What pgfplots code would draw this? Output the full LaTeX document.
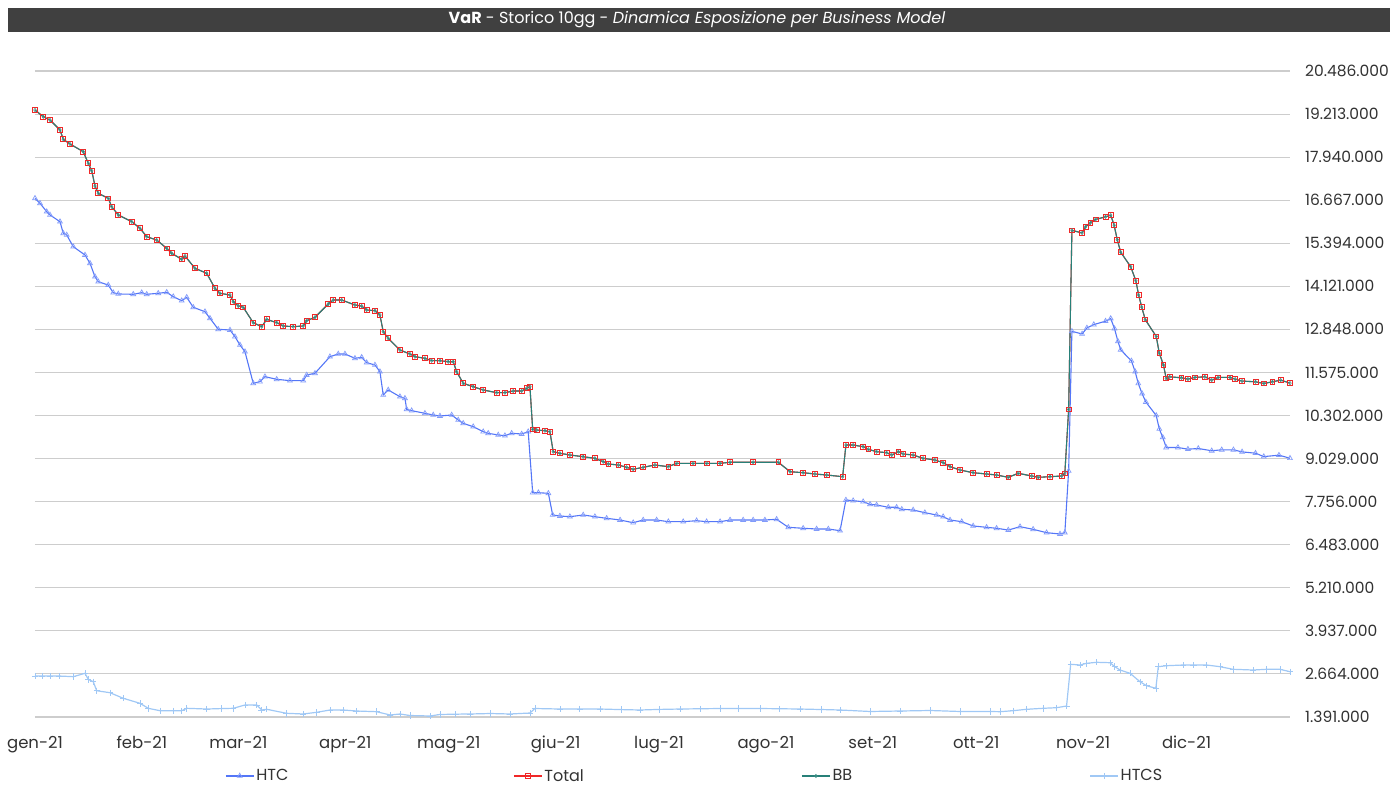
\documentclass[border=0pt]{standalone}
\usepackage{fontspec}
\setmainfont{Poppins}
\usepackage{pgfplots}
\pgfplotsset{compat=1.18}
\usepackage{pgfplotstable}
\definecolor{htc}{RGB}{84,118,247}
\definecolor{htcmark}{RGB}{130,155,250}
\definecolor{tot}{RGB}{240,40,40}
\definecolor{bb}{RGB}{40,128,120}
\definecolor{bbmark}{RGB}{70,150,140}
\definecolor{htcs}{RGB}{160,200,245}
\definecolor{titlebg}{RGB}{64,64,64}
\definecolor{gridc}{RGB}{205,205,205}
\definecolor{txt}{RGB}{50,50,50}

\pgfplotstableread{
d v
0 19333
2.4 19135
4.35 19038
7.25 18742
8.2 18467
10.15 18328
14.0 18101
15.45 17758
16.45 17539
17.4 17087
18.35 16871
21.25 16723
22.25 16475
24.15 16230
28.05 16032
30.45 15837
32.4 15588
35.3 15491
38.2 15245
39.65 15098
42.55 14920
43.5 15018
46.4 14654
49.8 14507
52.2 14063
53.65 13915
56.55 13865
57.5 13667
58.95 13540
60.4 13501
63.3 13046
65.75 12928
67.2 13147
70.1 13046
72.0 12949
74.9 12928
77.8 12949
78.8 13105
81.2 13206
85.05 13599
86.5 13717
88.95 13717
92.8 13569
94.75 13539
96.2 13422
98.6 13401
100.05 13274
101.0 12780
102.45 12585
105.85 12239
108.75 12121
110.2 12041
113.1 11994
115.05 11923
117.45 11923
119.85 11893
121.3 11893
122.3 11598
124.2 11255
127.1 11154
130.0 11057
133.9 10977
136.3 10977
138.7 11027
141.15 11027
142.6 11107
143.55 11154
144.35 9895
145.5 9874
147.9 9854
149.35 9824
150.3 9233
152.25 9186
155.15 9135
159.0 9085
162.4 9038
164.8 8937
166.3 8869
169.2 8840
171.6 8772
173.5 8713
176.4 8772
179.8 8840
183.7 8790
186.1 8890
190.9 8890
194.8 8890
198.7 8890
201.6 8920
208.3 8920
215.6 8920
219.0 8642
222.8 8612
226.2 8574
229.6 8544
234.25 8494
235.2 9431
237.3 9431
240.2 9381
241.7 9304
244.1 9233
247.0 9204
248.5 9135
250.4 9233
251.8 9165
254.7 9135
257.6 9038
261.0 8988
263.4 8908
265.4 8790
268.3 8692
272.1 8612
276.0 8574
278.9 8544
282.3 8476
285.2 8594
289.1 8515
291.0 8476
294.4 8494
297.8 8515
298.7 8594
299.8 10483
300.75 15777
303.7 15698
304.7 15878
306.1 15996
307.6 16097
310.5 16176
312.0 16224
313.0 15925
313.9 15500
314.9 15130
317.8 14701
319.3 14285
320.1 13865
321.0 13507
322.0 13141
325.2 12641
326.1 12145
327.3 11796
328.1 11397
329.1 11447
332.5 11418
334.4 11379
336.4 11429
339.3 11447
341.3 11349
343.2 11429
346.6 11429
348.1 11379
350.1 11320
354.0 11299
356.4 11249
358.9 11299
361.3 11349
364 11260
}\totaldata

\pgfplotstableread{
d v
0 16723
1.45 16575
3.4 16327
4.35 16230
7.25 16032
8.2 15689
9.2 15639
11.1 15293
14.5 15047
15.95 14802
17.4 14406
18.35 14258
21.25 14160
22.7 13933
24.15 13895
28.5 13886
30.95 13933
32.4 13886
35.75 13915
38.2 13945
40.1 13815
42.55 13697
44.0 13797
45.9 13501
49.3 13371
50.75 13176
53.15 12851
56.55 12830
58.0 12632
59.45 12387
60.9 12189
63.3 11255
65.25 11302
66.7 11450
70.1 11373
73.95 11332
77.8 11332
78.8 11500
81.2 11551
85.55 12041
87.95 12121
89.9 12121
92.8 11994
94.75 12023
96.2 11864
98.6 11796
100.05 11598
101.0 10909
102.45 11057
105.85 10859
107.3 10812
107.8 10486
109.25 10445
113.1 10368
115.5 10318
117.45 10288
120.85 10318
122.75 10170
124.2 10072
127.1 9972
130.0 9824
131.45 9777
134.35 9727
136.3 9706
138.25 9777
141.15 9756
143.05 9824
144.35 8021
146.0 8021
148.9 8003
150.15 7362
152.25 7332
155.15 7312
159.0 7362
162.4 7312
165.8 7264
169.7 7214
173.5 7134
176.4 7214
180.3 7214
183.7 7164
188.0 7164
191.9 7193
194.8 7164
198.7 7164
201.6 7214
205.4 7214
208.3 7214
211.7 7214
215.1 7235
218.5 6998
222.8 6969
226.7 6948
230.1 6948
233.5 6898
235.2 7805
237.3 7785
240.2 7755
242.2 7678
244.1 7658
247.5 7590
249.9 7590
251.4 7530
254.7 7510
258.1 7430
261.5 7362
263.4 7312
265.4 7214
268.8 7164
272.1 7037
276.0 6998
278.9 6969
282.3 6918
285.7 7016
289.5 6939
293.4 6839
297.3 6800
298.7 6839
299.8 8663
300.75 12792
303.7 12712
305.1 12890
307.1 12990
310.5 13091
312.0 13170
313.1 12872
314.1 12493
314.9 12245
318.0 11917
319.1 11598
320.0 11249
321.1 10950
322.2 10702
325.2 10303
326.1 9904
327.1 9656
328.1 9357
331.5 9357
334.4 9307
337.4 9328
341.3 9260
344.2 9289
347.6 9289
350.1 9227
354.0 9189
356.4 9088
360.8 9130
364 9040
}\htcdata

\pgfplotstableread{
d v
0 2603
2 2603
4.35 2603
7 2603
11.1 2583
14.5 2683
15.45 2505
16.9 2434
17.9 2168
21.75 2109
25.6 1944
30.45 1796
32.85 1648
36.25 1577
40 1577
42.55 1577
44.0 1648
49.8 1627
54 1640
57.5 1648
60.9 1746
64.3 1746
65.75 1598
67.2 1619
73.0 1500
77.8 1480
81.7 1530
85.55 1598
89.4 1598
93.3 1568
99.1 1548
103.0 1450
105.85 1480
108.75 1435
114.6 1421
117.45 1465
122 1475
126.2 1480
132.0 1494
137.8 1480
143.55 1509
145.0 1642
152.25 1627
158 1630
163.9 1627
170 1610
175.5 1598
181 1615
187.1 1627
193 1635
198.7 1642
204 1642
210.3 1642
216 1635
221.9 1627
228 1612
233.5 1598
242.2 1554
250.9 1568
259.6 1583
268.3 1554
277.0 1554
279.9 1548
283.7 1577
287.6 1619
292.4 1648
296.3 1666
299.2 1716
300.4 2949
303.1 2928
305.0 2978
307.9 3008
311.8 2996
313.2 2878
314.7 2780
317.6 2683
320.5 2434
322.4 2316
325.1 2239
325.8 2878
328.2 2907
333.0 2928
336 2928
339.8 2928
343.7 2878
347.5 2801
353.3 2780
357.2 2801
361.1 2801
364.0 2730
}\htcsdata

\begin{document}
\begin{tikzpicture}[x=1pt,y=1pt]
\useasboundingbox (0,0) rectangle (1394,785);
\fill[titlebg] (8,753) rectangle (1390,777);
\node[text=white, font=\fontsize{16}{19}\selectfont, inner sep=0pt] at (697,765)
  {\textbf{VaR} - Storico 10gg - \textit{Dinamica Esposizione per Business Model}};
\begin{axis}[
  at={(35pt,68pt)}, anchor=south west,
  scale only axis, width=1255pt, height=646pt,
  xmin=0, xmax=364, ymin=1391, ymax=20486,
  clip=false, scaled y ticks=false, scaled x ticks=false,
  axis line style={draw=none},
  major tick length=0pt,
  ymajorgrids, grid style={gridc, line width=1.1pt},
  ytick={1391,2664,3937,5210,6483,7756,9029,10302,11575,12848,14121,15394,16667,17940,19213,20486},
  yticklabels={1.391.000,2.664.000,3.937.000,5.210.000,6.483.000,7.756.000,9.029.000,10.302.000,11.575.000,12.848.000,14.121.000,15.394.000,16.667.000,17.940.000,19.213.000,20.486.000},
  yticklabel pos=right,
  yticklabel style={anchor=west, inner sep=0pt, xshift=15pt, font=\fontsize{15.5}{18}\selectfont, text=txt},
  xtick={0,31,59,90,120,151,181,212,243,273,304,334},
  xticklabels={gen-21,feb-21,mar-21,apr-21,mag-21,giu-21,lug-21,ago-21,set-21,ott-21,nov-21,dic-21},
  xticklabel style={anchor=base, inner sep=0pt, yshift=-31pt, font=\fontsize{16.5}{19}\selectfont, text=txt},
  legend columns=4,
  legend image code/.code={\draw[mark repeat=2,mark phase=2] plot coordinates {(0pt,0pt) (14pt,0pt) (28pt,0pt)};},
  legend style={draw=none, fill=none, at={(axis description cs:0.1514,-0.0913)}, anchor=west, inner sep=0pt,
    font=\fontsize{16}{19}\selectfont, nodes={inner sep=2pt, text width=255pt, align=left, text=txt}},
]
\addplot[htc, line width=1.1pt, mark=triangle, mark size=2.8pt, mark options={draw=htcmark, fill=white, line width=0.7pt}] table[x=d,y=v] {\htcdata};
\addlegendentry{HTC}
\addplot[tot, line width=1.1pt, mark=square, mark size=2.4pt, mark options={draw=tot, fill=white, line width=0.8pt}] table[x=d,y=v] {\totaldata};
\addlegendentry{Total}
\addplot[bb, line width=1.1pt, mark=diamond, mark size=1.7pt, mark options={draw=bbmark, fill=white, line width=0.6pt}] table[x=d,y=v] {\totaldata};
\addlegendentry{BB}
\addplot[htcs, line width=1.2pt, mark=+, mark size=3.2pt, mark options={draw=htcs, line width=0.7pt}] table[x=d,y=v] {\htcsdata};
\addlegendentry{HTCS}
\end{axis}
\end{tikzpicture}
\end{document}
